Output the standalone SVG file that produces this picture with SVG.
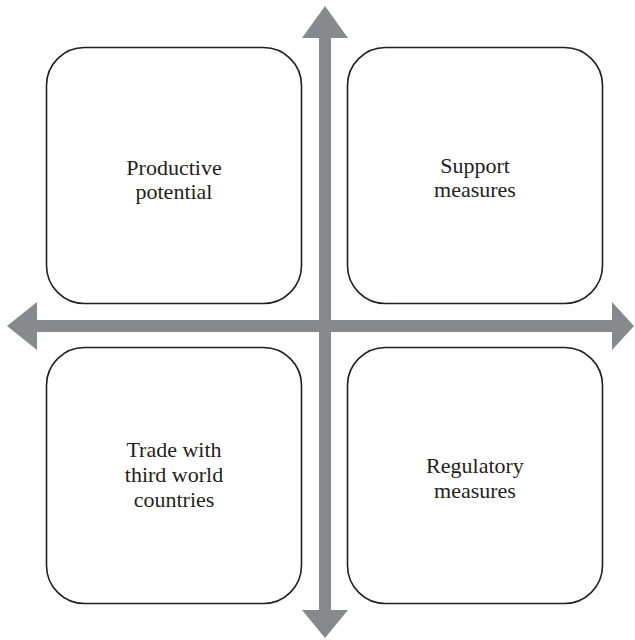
<svg xmlns="http://www.w3.org/2000/svg" width="635" height="640" viewBox="0 0 635 640">
  <style>
    .box { fill: #ffffff; stroke: #231f20; stroke-width: 1.6; }
    .axis { fill: #88898c; stroke: none; }
    .label { font-family: "Liberation Serif", "Times New Roman", serif; font-size: 22px; fill: #231f20; text-anchor: middle; }
  </style>
  <rect width="635" height="640" fill="#ffffff"/>

  <!-- quadrant boxes -->
  <g id="productive-potential">
    <rect class="box" x="46.5" y="47.5" width="255" height="256" rx="38" ry="38"/>
    <text class="label" x="174" y="175">Productive</text>
    <text class="label" x="174" y="199">potential</text>
  </g>
  <g id="support-measures">
    <rect class="box" x="347.5" y="47.5" width="255" height="256" rx="38" ry="38"/>
    <text class="label" x="475" y="173">Support</text>
    <text class="label" x="475" y="197">measures</text>
  </g>
  <g id="trade-third-world">
    <rect class="box" x="46.5" y="347.5" width="255" height="256" rx="38" ry="38"/>
    <text class="label" x="174" y="457">Trade with</text>
    <text class="label" x="174" y="482">third world</text>
    <text class="label" x="174" y="507">countries</text>
  </g>
  <g id="regulatory-measures">
    <rect class="box" x="347.5" y="347.5" width="255" height="256" rx="38" ry="38"/>
    <text class="label" x="475" y="473">Regulatory</text>
    <text class="label" x="475" y="498">measures</text>
  </g>

  <!-- double-headed axes crossing between the boxes -->
  <g id="connectors">
    <polygon class="axis" points="325,6 348,38 331,38 331,610 348,610 325,638 302,610 319,610 319,38 302,38"/>
    <polygon class="axis" points="7,326 37,302 37,320 612,320 612,302 634,326 612,350 612,332 37,332 37,350"/>
  </g>
</svg>
